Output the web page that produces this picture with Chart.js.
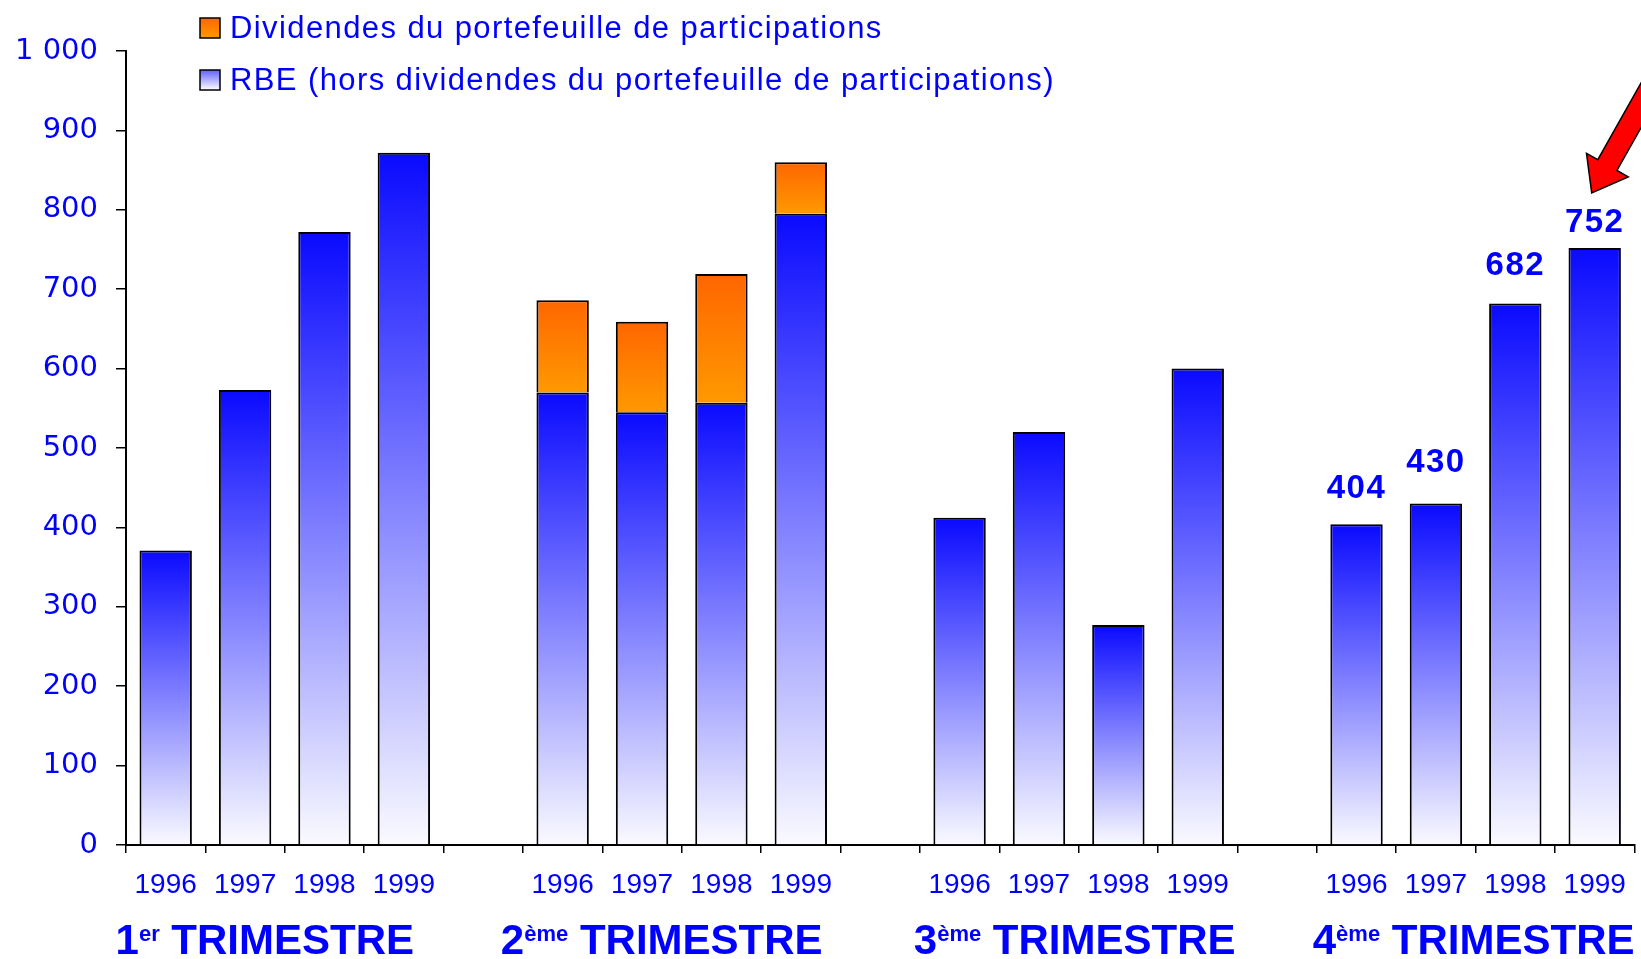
<!DOCTYPE html>
<html>
<head>
<meta charset="utf-8">
<script src="https://cdn.jsdelivr.net/npm/chart.js@4/dist/chart.umd.min.js"></script>
<style>
  html, body { margin: 0; padding: 0; background: #fff; }
  #wrap { width: 1641px; height: 959px; position: relative; }
</style>
</head>
<body>
<div id="wrap"><canvas id="myChart"></canvas></div>
<script>
// data
const categories = ['1996', '1997', '1998', '1999', '',
                    '1996', '1997', '1998', '1999', '',
                    '1996', '1997', '1998', '1999', '',
                    '1996', '1997', '1998', '1999'];
const rbe = [371, 573, 772, 872, null,
             570, 545, 557, 795, null,
             412, 520, 277, 600, null,
             404, 430, 682, 752];
const dividendes = [null, null, null, null, null,
                    116, 114, 162, 65, null,
                    null, null, null, null, null,
                    null, null, null, null];
const trimestreNum = ['1', '2', '3', '4'];
const trimestreSup = ['er', 'ème', 'ème', 'ème'];
const trimestreWord = 'TRIMESTRE';
const groupStart = [0, 5, 10, 15];
const labelledBars = [15, 16, 17, 18];
const arrowBar = 18;

const BLUE = '#0000FF';
const labelShift = [-20, -20, -4, -2];   // trimestre titles, px
const labelGap = [26, 32, 28, 16];       // value labels above bars, px

function fade(ctx, topCol, botCol, stackBelow) {
  const chart = ctx.chart;
  if (!chart.chartArea || ctx.raw == null) return topCol;
  const y = chart.scales.y;
  const base = stackBelow ? (stackBelow[ctx.dataIndex] || 0) : 0;
  const y1 = y.getPixelForValue(base + ctx.raw);
  const y0 = y.getPixelForValue(base);
  const g = chart.ctx.createLinearGradient(0, y1, 0, y0);
  g.addColorStop(0, topCol);
  g.addColorStop(1, botCol);
  return g;
}

// legend, trimestre labels, value labels and arrow
const extras = {
  id: 'extras',
  afterDraw(chart) {
    const c = chart.ctx;
    const x = chart.scales.x;
    c.save();

    // legend
    const items = [
      { label: chart.data.datasets[1].label, top: '#FF6600', bot: '#FF9900', y: 28 },
      { label: chart.data.datasets[0].label, top: '#6060FF', bot: '#FFFFFF', y: 80 }
    ];
    c.letterSpacing = '1.4px';
    items.forEach(it => {
      const g = c.createLinearGradient(0, it.y - 10, 0, it.y + 10);
      g.addColorStop(0, it.top);
      g.addColorStop(1, it.bot);
      c.fillStyle = g;
      c.fillRect(200, it.y - 10, 20, 20);
      c.strokeStyle = '#000';
      c.lineWidth = 1.5;
      c.strokeRect(200, it.y - 10, 20, 20);
      c.fillStyle = BLUE;
      c.font = '31px "Liberation Sans", Arial, sans-serif';
      c.textAlign = 'left';
      c.textBaseline = 'middle';
      c.fillText(it.label, 230, it.y + 1);
    });

    // trimestre labels
    c.letterSpacing = '0px';
    c.textBaseline = 'alphabetic';
    groupStart.forEach((s, i) => {
      const cx = (x.getPixelForValue(s) + x.getPixelForValue(s + 3)) / 2 + labelShift[i];
      const big = 'bold 42px "Liberation Sans", Arial, sans-serif';
      const small = 'bold 22px "Liberation Sans", Arial, sans-serif';
      c.font = big;
      const w1 = c.measureText(trimestreNum[i]).width;
      const w3 = c.measureText(' ' + trimestreWord).width;
      c.font = small;
      const w2 = c.measureText(trimestreSup[i]).width;
      let px = cx - (w1 + w2 + w3) / 2;
      const base = 954;
      c.fillStyle = BLUE;
      c.textAlign = 'left';
      c.font = big;
      c.fillText(trimestreNum[i], px, base);
      px += w1;
      c.font = small;
      c.fillText(trimestreSup[i], px, base - 13);
      px += w2;
      c.font = big;
      c.fillText(' ' + trimestreWord, px, base);
    });

    // value labels
    c.letterSpacing = '1.5px';
    const meta = chart.getDatasetMeta(0);
    c.font = 'bold 33px "Liberation Sans", Arial, sans-serif';
    c.textAlign = 'center';
    c.fillStyle = BLUE;
    labelledBars.forEach((i, k) => {
      const bar = meta.data[i];
      c.fillText(String(rbe[i]), bar.x, bar.y - labelGap[k]);
    });
    c.letterSpacing = '0px';

    // red arrow pointing at the last bar
    const b = meta.data[arrowBar];
    const tx = b.x - 3, ty = b.y - 55;
    const ux = 0.49, uy = -0.87, nx = 0.87, ny = 0.49;
    const headLen = 32, headHalf = 24, shaftHalf = 11, shaftLen = 260;
    const bx = tx + ux * headLen, by = ty + uy * headLen;
    c.beginPath();
    c.moveTo(tx, ty);
    c.lineTo(bx - nx * headHalf, by - ny * headHalf);
    c.lineTo(bx - nx * shaftHalf, by - ny * shaftHalf);
    c.lineTo(bx - nx * shaftHalf + ux * shaftLen, by - ny * shaftHalf + uy * shaftLen);
    c.lineTo(bx + nx * shaftHalf + ux * shaftLen, by + ny * shaftHalf + uy * shaftLen);
    c.lineTo(bx + nx * shaftHalf, by + ny * shaftHalf);
    c.lineTo(bx + nx * headHalf, by + ny * headHalf);
    c.closePath();
    c.fillStyle = '#FF0000';
    c.fill();
    c.strokeStyle = '#000';
    c.lineWidth = 1.5;
    c.stroke();

    c.restore();
  }
};

var ctx = document.getElementById('myChart').getContext('2d');
var myChart = new Chart(ctx, {
  type: 'bar',
  data: {
    labels: categories,
    datasets: [{
      label: 'RBE (hors dividendes du portefeuille de participations)',
      data: rbe,
      backgroundColor: c => fade(c, '#0A0AFF', '#FAFAFF', null),
      borderColor: '#000',
      borderWidth: 2,
      barPercentage: 0.66,
      categoryPercentage: 1
    }, {
      label: 'Dividendes du portefeuille de participations',
      data: dividendes,
      backgroundColor: c => fade(c, '#FF6600', '#FF9900', rbe),
      borderColor: '#000',
      borderWidth: 2,
      barPercentage: 0.66,
      categoryPercentage: 1
    }]
  },
  options: {
    responsive: true,
    maintainAspectRatio: false,
    animation: false,
    layout: { padding: { top: 51, right: 6, left: 0, bottom: 0 } },
    plugins: {
      legend: { display: false },
      tooltip: { enabled: false }
    },
    scales: {
      x: {
        stacked: true,
        grid: { offset: true, drawOnChartArea: false, tickLength: 8, color: '#000', lineWidth: 1.5 },
        border: { color: '#000', width: 2 },
        ticks: {
          color: BLUE,
          font: { family: '"Liberation Sans", Arial, sans-serif', size: 28 },
          autoSkip: false,
          maxRotation: 0,
          padding: 15
        },
        afterFit(scale) { scale.height = 114; }
      },
      y: {
        stacked: true,
        min: 0,
        max: 1000,
        grid: { drawOnChartArea: false, tickLength: 10, color: '#000', lineWidth: 1.5 },
        border: { color: '#000', width: 2 },
        ticks: {
          stepSize: 100,
          color: BLUE,
          padding: 18,
          font: { family: '"DejaVu Sans", Verdana, sans-serif', size: 29 },
          callback: v => v >= 1000 ? '1 000' : String(v)
        },
        afterFit(scale) { scale.width = 126; }
      }
    }
  },
  plugins: [extras]
});
</script>
</body>
</html>
